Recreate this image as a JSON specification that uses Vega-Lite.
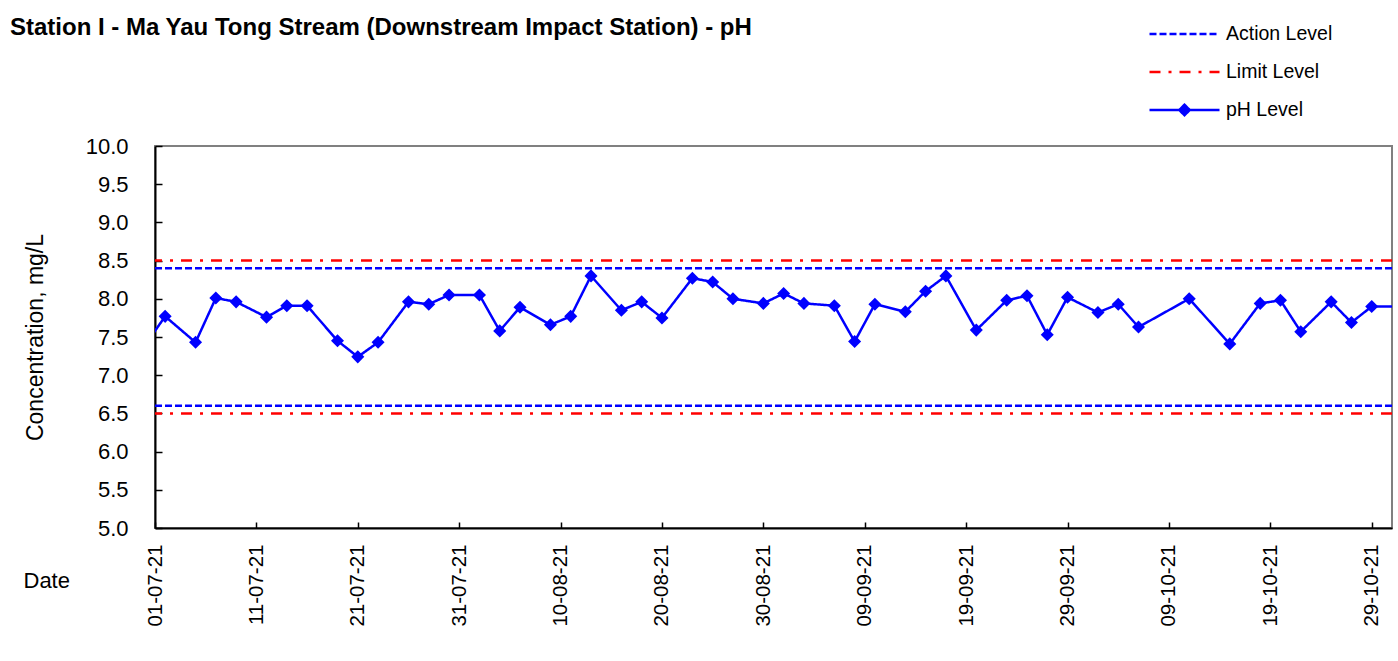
{
  "$schema": "https://vega.github.io/schema/vega-lite/v6.json",
  "autosize": {"type": "none"},
  "padding": {"left": 155, "top": 146, "right": 6, "bottom": 133},
  "width": 1237,
  "height": 382,
  "background": "white",
  "title": {
    "text": "Station I - Ma Yau Tong Stream (Downstream Impact Station) - pH",
    "anchor": "start",
    "frame": "group",
    "dx": -145,
    "dy": 39,
    "fontSize": 24,
    "fontWeight": "bold",
    "font": "Liberation Sans",
    "color": "black",
    "baseline": "alphabetic",
    "offset": 0
  },
  "config": {
    "font": "Liberation Sans",
    "view": {"stroke": "#808080", "strokeWidth": 2},
    "axis": {"grid": false, "labelColor": "black", "titleColor": "black", "domainColor": "black", "tickColor": "black", "domainWidth": 2, "tickWidth": 1.5, "labelFont": "Liberation Sans", "titleFont": "Liberation Sans"}
  },
  "datasets": {
    "levels": [
      {"value": 8.4, "series": "Action Level"},
      {"value": 6.6, "series": "Action Level"},
      {"value": 8.5, "series": "Limit Level"},
      {"value": 6.5, "series": "Limit Level"}
    ],
    "ph": [
      {"date": "2021-06-30", "value": 7.39, "series": "pH Level"},
      {"date": "2021-07-02", "value": 7.77, "series": "pH Level"},
      {"date": "2021-07-05", "value": 7.43, "series": "pH Level"},
      {"date": "2021-07-07", "value": 8.01, "series": "pH Level"},
      {"date": "2021-07-09", "value": 7.96, "series": "pH Level"},
      {"date": "2021-07-12", "value": 7.76, "series": "pH Level"},
      {"date": "2021-07-14", "value": 7.91, "series": "pH Level"},
      {"date": "2021-07-16", "value": 7.91, "series": "pH Level"},
      {"date": "2021-07-19", "value": 7.45, "series": "pH Level"},
      {"date": "2021-07-21", "value": 7.24, "series": "pH Level"},
      {"date": "2021-07-23", "value": 7.43, "series": "pH Level"},
      {"date": "2021-07-26", "value": 7.96, "series": "pH Level"},
      {"date": "2021-07-28", "value": 7.93, "series": "pH Level"},
      {"date": "2021-07-30", "value": 8.05, "series": "pH Level"},
      {"date": "2021-08-02", "value": 8.05, "series": "pH Level"},
      {"date": "2021-08-04", "value": 7.58, "series": "pH Level"},
      {"date": "2021-08-06", "value": 7.89, "series": "pH Level"},
      {"date": "2021-08-09", "value": 7.66, "series": "pH Level"},
      {"date": "2021-08-11", "value": 7.77, "series": "pH Level"},
      {"date": "2021-08-13", "value": 8.30, "series": "pH Level"},
      {"date": "2021-08-16", "value": 7.85, "series": "pH Level"},
      {"date": "2021-08-18", "value": 7.96, "series": "pH Level"},
      {"date": "2021-08-20", "value": 7.75, "series": "pH Level"},
      {"date": "2021-08-23", "value": 8.27, "series": "pH Level"},
      {"date": "2021-08-25", "value": 8.22, "series": "pH Level"},
      {"date": "2021-08-27", "value": 8.00, "series": "pH Level"},
      {"date": "2021-08-30", "value": 7.94, "series": "pH Level"},
      {"date": "2021-09-01", "value": 8.07, "series": "pH Level"},
      {"date": "2021-09-03", "value": 7.94, "series": "pH Level"},
      {"date": "2021-09-06", "value": 7.91, "series": "pH Level"},
      {"date": "2021-09-08", "value": 7.44, "series": "pH Level"},
      {"date": "2021-09-10", "value": 7.93, "series": "pH Level"},
      {"date": "2021-09-13", "value": 7.83, "series": "pH Level"},
      {"date": "2021-09-15", "value": 8.10, "series": "pH Level"},
      {"date": "2021-09-17", "value": 8.30, "series": "pH Level"},
      {"date": "2021-09-20", "value": 7.59, "series": "pH Level"},
      {"date": "2021-09-23", "value": 7.98, "series": "pH Level"},
      {"date": "2021-09-25", "value": 8.04, "series": "pH Level"},
      {"date": "2021-09-27", "value": 7.53, "series": "pH Level"},
      {"date": "2021-09-29", "value": 8.02, "series": "pH Level"},
      {"date": "2021-10-02", "value": 7.82, "series": "pH Level"},
      {"date": "2021-10-04", "value": 7.93, "series": "pH Level"},
      {"date": "2021-10-06", "value": 7.63, "series": "pH Level"},
      {"date": "2021-10-11", "value": 8.00, "series": "pH Level"},
      {"date": "2021-10-15", "value": 7.41, "series": "pH Level"},
      {"date": "2021-10-18", "value": 7.94, "series": "pH Level"},
      {"date": "2021-10-20", "value": 7.98, "series": "pH Level"},
      {"date": "2021-10-22", "value": 7.57, "series": "pH Level"},
      {"date": "2021-10-25", "value": 7.96, "series": "pH Level"},
      {"date": "2021-10-27", "value": 7.69, "series": "pH Level"},
      {"date": "2021-10-29", "value": 7.90, "series": "pH Level"},
      {"date": "2021-11-01", "value": 7.90, "series": "pH Level"}
    ]
  },
  "encoding": {
    "y": {
      "field": "value", "type": "quantitative",
      "scale": {"domain": [5, 10], "nice": false, "zero": false},
      "axis": {
        "values": [5, 5.5, 6, 6.5, 7, 7.5, 8, 8.5, 9, 9.5, 10],
        "format": ".1f",
        "labelFontSize": 22,
        "labelOverlap": false,
        "tickSize": -7,
        "labelPadding": 34,
        "title": "Concentration, mg/L",
        "titleFontSize": 23,
        "titleFontWeight": "normal",
        "titlePadding": 38
      }
    }
  },
  "layer": [
    {
      "data": {"name": "levels"},
      "mark": {"type": "rule", "strokeWidth": 2.5},
      "encoding": {
        "color": {
          "field": "series", "type": "nominal",
          "scale": {"domain": ["Action Level", "Limit Level", "pH Level"], "range": ["#0000ff", "#ff0000", "#0000ff"]},
          "legend": {
            "title": null,
            "orient": "none",
            "legendX": 993,
            "legendY": -126,
            "padding": 0,
            "symbolType": "stroke",
            "symbolSize": 4900,
            "symbolStrokeWidth": 2.5,
            "clipHeight": 28,
            "rowPadding": 10,
            "labelOffset": 5,
            "labelFontSize": 19.5,
            "labelColor": "black",
            "labelFont": "Liberation Sans",
            "encode": {
              "symbols": {
                "update": {
                  "shape": {"signal": "datum.value === 'pH Level' ? 'M-1,0H1M0,-0.15L0.15,0L0,0.15L-0.15,0Z' : 'stroke'"},
                  "fill": {"signal": "datum.value === 'pH Level' ? '#0000ff' : 'transparent'"}
                }
              }
            }
          }
        },
        "strokeDash": {
          "field": "series", "type": "nominal",
          "scale": {"domain": ["Action Level", "Limit Level", "pH Level"], "range": [[7, 3], [11, 8, 3, 8], [1, 0]]},
          "legend": {
            "title": null,
            "orient": "none",
            "legendX": 993,
            "legendY": -126,
            "padding": 0,
            "symbolType": "stroke",
            "symbolSize": 4900,
            "symbolStrokeWidth": 2.5,
            "clipHeight": 28,
            "rowPadding": 10,
            "labelOffset": 5,
            "labelFontSize": 19.5,
            "labelColor": "black",
            "labelFont": "Liberation Sans",
            "encode": {
              "symbols": {
                "update": {
                  "shape": {"signal": "datum.value === 'pH Level' ? 'M-1,0H1M0,-0.15L0.15,0L0,0.15L-0.15,0Z' : 'stroke'"},
                  "fill": {"signal": "datum.value === 'pH Level' ? '#0000ff' : 'transparent'"}
                }
              }
            }
          }
        }
      }
    },
    {
      "data": {"name": "ph"},
      "mark": {"type": "line", "strokeWidth": 2.5, "clip": true},
      "encoding": {
        "x": {
          "field": "date", "type": "temporal",
          "scale": {"type": "utc", "domain": [{"year": 2021, "month": 7, "date": 1, "utc": true}, {"year": 2021, "month": 10, "date": 31, "utc": true}], "nice": false},
          "axis": {
            "values": [
              {"year": 2021, "month": 7, "date": 1, "utc": true},
              {"year": 2021, "month": 7, "date": 11, "utc": true},
              {"year": 2021, "month": 7, "date": 21, "utc": true},
              {"year": 2021, "month": 7, "date": 31, "utc": true},
              {"year": 2021, "month": 8, "date": 10, "utc": true},
              {"year": 2021, "month": 8, "date": 20, "utc": true},
              {"year": 2021, "month": 8, "date": 30, "utc": true},
              {"year": 2021, "month": 9, "date": 9, "utc": true},
              {"year": 2021, "month": 9, "date": 19, "utc": true},
              {"year": 2021, "month": 9, "date": 29, "utc": true},
              {"year": 2021, "month": 10, "date": 9, "utc": true},
              {"year": 2021, "month": 10, "date": 19, "utc": true},
              {"year": 2021, "month": 10, "date": 29, "utc": true}
            ],
            "labelExpr": "utcFormat(datum.value, '%d-%m-%y')",
            "labelAngle": 270,
            "labelFontSize": 20.5,
            "tickSize": -6,
            "labelPadding": 22,
            "labelOverlap": false,
            "title": "Date",
            "titleFontSize": 22,
            "titleFontWeight": "normal",
            "titleAngle": 0,
            "titleAlign": "left",
            "titleBaseline": "middle",
            "titleX": -132,
            "titleY": 52
          }
        },
        "color": {"field": "series", "type": "nominal", "legend": null},
        "strokeDash": {"field": "series", "type": "nominal", "legend": null}
      }
    },
    {
      "data": {"name": "ph"},
      "mark": {"type": "point", "shape": "diamond", "filled": true, "opacity": 1, "size": 170, "clip": true},
      "encoding": {
        "x": {"field": "date", "type": "temporal"},
        "color": {"field": "series", "type": "nominal", "legend": null}
      }
    }
  ]
}
